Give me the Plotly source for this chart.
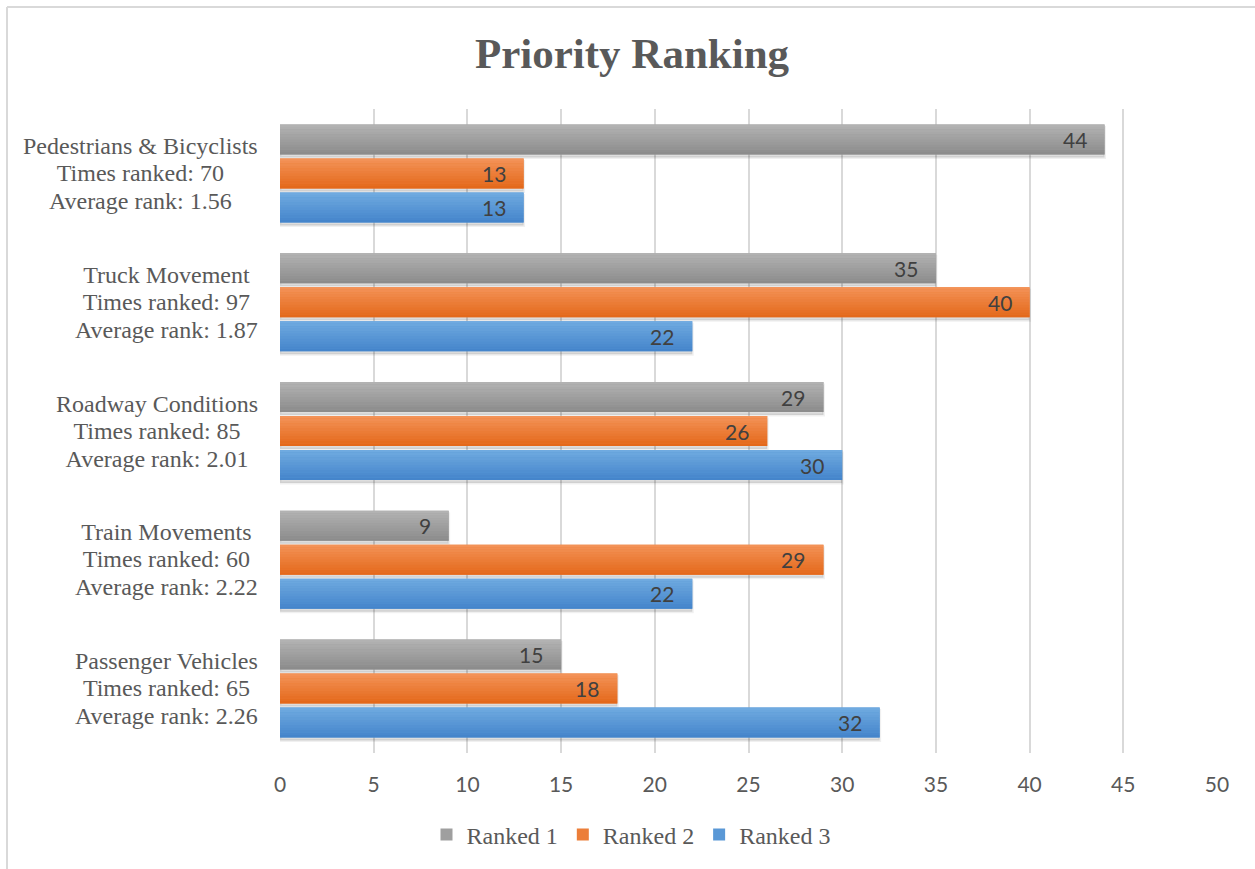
import plotly.graph_objects as go

# Survey categories (top to bottom) and their axis labels
categories = ["Pedestrians & Bicyclists", "Truck Movement", "Roadway Conditions",
              "Train Movements", "Passenger Vehicles"]
times_ranked = [70, 97, 85, 60, 65]
average_rank = [1.56, 1.87, 2.01, 2.22, 2.26]

# Number of times each category was ranked 1st / 2nd / 3rd
ranked_1 = [44, 35, 29, 9, 15]
ranked_2 = [13, 40, 26, 29, 18]
ranked_3 = [13, 22, 30, 22, 32]

x_ticks = list(range(0, 55, 5))

label_lines = [[c, f"Times ranked: {t}", f"Average rank: {a:.2f}"]
               for c, t, a in zip(categories, times_ranked, average_rank)]

SERIF = "Liberation Serif, Times New Roman, serif"
SANS = "Lato, Open Sans, sans-serif"
TEXT_GRAY = "#595959"

W, H = 1255, 869
M_L, M_R, M_T, M_B = 280, 38, 109, 116
PLOT_W = W - M_L - M_R
PLOT_H = H - M_T - M_B
CAT_PX = PLOT_H / len(categories)      # pixels per category slot

BAR_W = 30 / CAT_PX                      # bar thickness in category units
STEP = 34 / CAT_PX                       # distance between bar centres
N_STRIPS = 12                            # bands used for the vertical shading


def hex_to_rgb(h):
    h = h.lstrip("#")
    return tuple(int(h[i:i + 2], 16) for i in (0, 2, 4))


def mix(c1, c2, t):
    a, b = hex_to_rgb(c1), hex_to_rgb(c2)
    return "rgb({},{},{})".format(*[round(a[i] + (b[i] - a[i]) * t) for i in range(3)])


series = [
    ("Ranked 1", ranked_1, "#b2b2b2", "#8c8c8c", -STEP),
    ("Ranked 2", ranked_2, "#f39257", "#e4691b", 0.0),
    ("Ranked 3", ranked_3, "#6faae0", "#4585cb", STEP),
]

fig = go.Figure()

for name, vals, top, bottom, centre in series:
    off = centre - BAR_W / 2
    # soft drop shadow under each bar
    fig.add_trace(go.Bar(
        x=vals, y=categories, orientation="h",
        offset=off + 3 / CAT_PX, width=BAR_W,
        marker=dict(color="rgba(0,0,0,0.13)",
                    line=dict(color="rgba(0,0,0,0.06)", width=3)),
        showlegend=False, hoverinfo="skip",
    ))
    # solid base bar (also provides the legend entry)
    fig.add_trace(go.Bar(
        x=vals, y=categories, orientation="h", name=name,
        offset=off, width=BAR_W,
        marker=dict(color=mix(top, bottom, 0.5), line=dict(width=0)),
        hovertemplate="%{y}: %{x}<extra>" + name + "</extra>",
    ))
    # top-to-bottom shading bands
    band = BAR_W / N_STRIPS
    for k in range(N_STRIPS):
        fig.add_trace(go.Bar(
            x=vals, y=categories, orientation="h",
            offset=off + k * band, width=band,
            marker=dict(color=mix(top, bottom, k / (N_STRIPS - 1)), line=dict(width=0)),
            showlegend=False, hoverinfo="skip",
        ))
    # value labels at the inner end of each bar
    for cat, v in zip(categories, vals):
        fig.add_annotation(
            x=v, y=cat, text=str(v), showarrow=False,
            xanchor="right", yanchor="middle",
            xshift=-16, yshift=-centre * CAT_PX,
            font=dict(family=SANS, size=21, color="#404040"),
        )

# centred three-line category labels left of the axis
for cat, lines in zip(categories, label_lines):
    fig.add_annotation(
        xref="paper", x=0, y=cat, xanchor="right", yanchor="middle",
        xshift=-20, align="center", showarrow=False,
        text="<br>".join(f"<span style='font-size:24px'>{ln}</span>" for ln in lines),
        font=dict(family=SERIF, size=21, color=TEXT_GRAY),
    )

fig.update_layout(
    width=W, height=H,
    margin=dict(l=M_L, r=M_R, t=M_T, b=M_B),
    paper_bgcolor="white", plot_bgcolor="white",
    barmode="overlay",
    title=dict(text="<b>Priority Ranking</b>", xref="container", x=632 / W,
               xanchor="center", yref="container", y=1 - 53 / H, yanchor="middle",
               font=dict(family=SERIF, size=43, color=TEXT_GRAY)),
    xaxis=dict(range=[0, 50], tickvals=x_ticks, showgrid=True,
               gridcolor="#d9d9d9", gridwidth=1.5, zeroline=False,
               showline=False, ticks="", ticklabelstandoff=17,
               tickfont=dict(family=SANS, size=21, color=TEXT_GRAY)),
    yaxis=dict(autorange="reversed", tickvals=categories, showticklabels=False,
               showgrid=False, zeroline=False, showline=False, ticks=""),
    legend=dict(orientation="h", xref="container", x=631 / W, xanchor="center",
                yref="container", y=1 - 835 / H, yanchor="middle",
                font=dict(family=SERIF, size=24, color=TEXT_GRAY),
                itemwidth=30, tracegroupgap=0),
    showlegend=True,
    shapes=[
        dict(type="line", xref="paper", yref="paper",
             x0=(7 - M_L) / PLOT_W, x1=(W + 20 - M_L) / PLOT_W,
             y0=(H - M_B - 7) / PLOT_H, y1=(H - M_B - 7) / PLOT_H,
             line=dict(color="#d9d9d9", width=2), layer="below"),
        dict(type="line", xref="paper", yref="paper",
             x0=(7 - M_L) / PLOT_W, x1=(7 - M_L) / PLOT_W,
             y0=(H - M_B - 7) / PLOT_H, y1=(-30 - M_B) / PLOT_H,
             line=dict(color="#d9d9d9", width=2), layer="below"),
    ],
)

fig.write_html("out.html")
